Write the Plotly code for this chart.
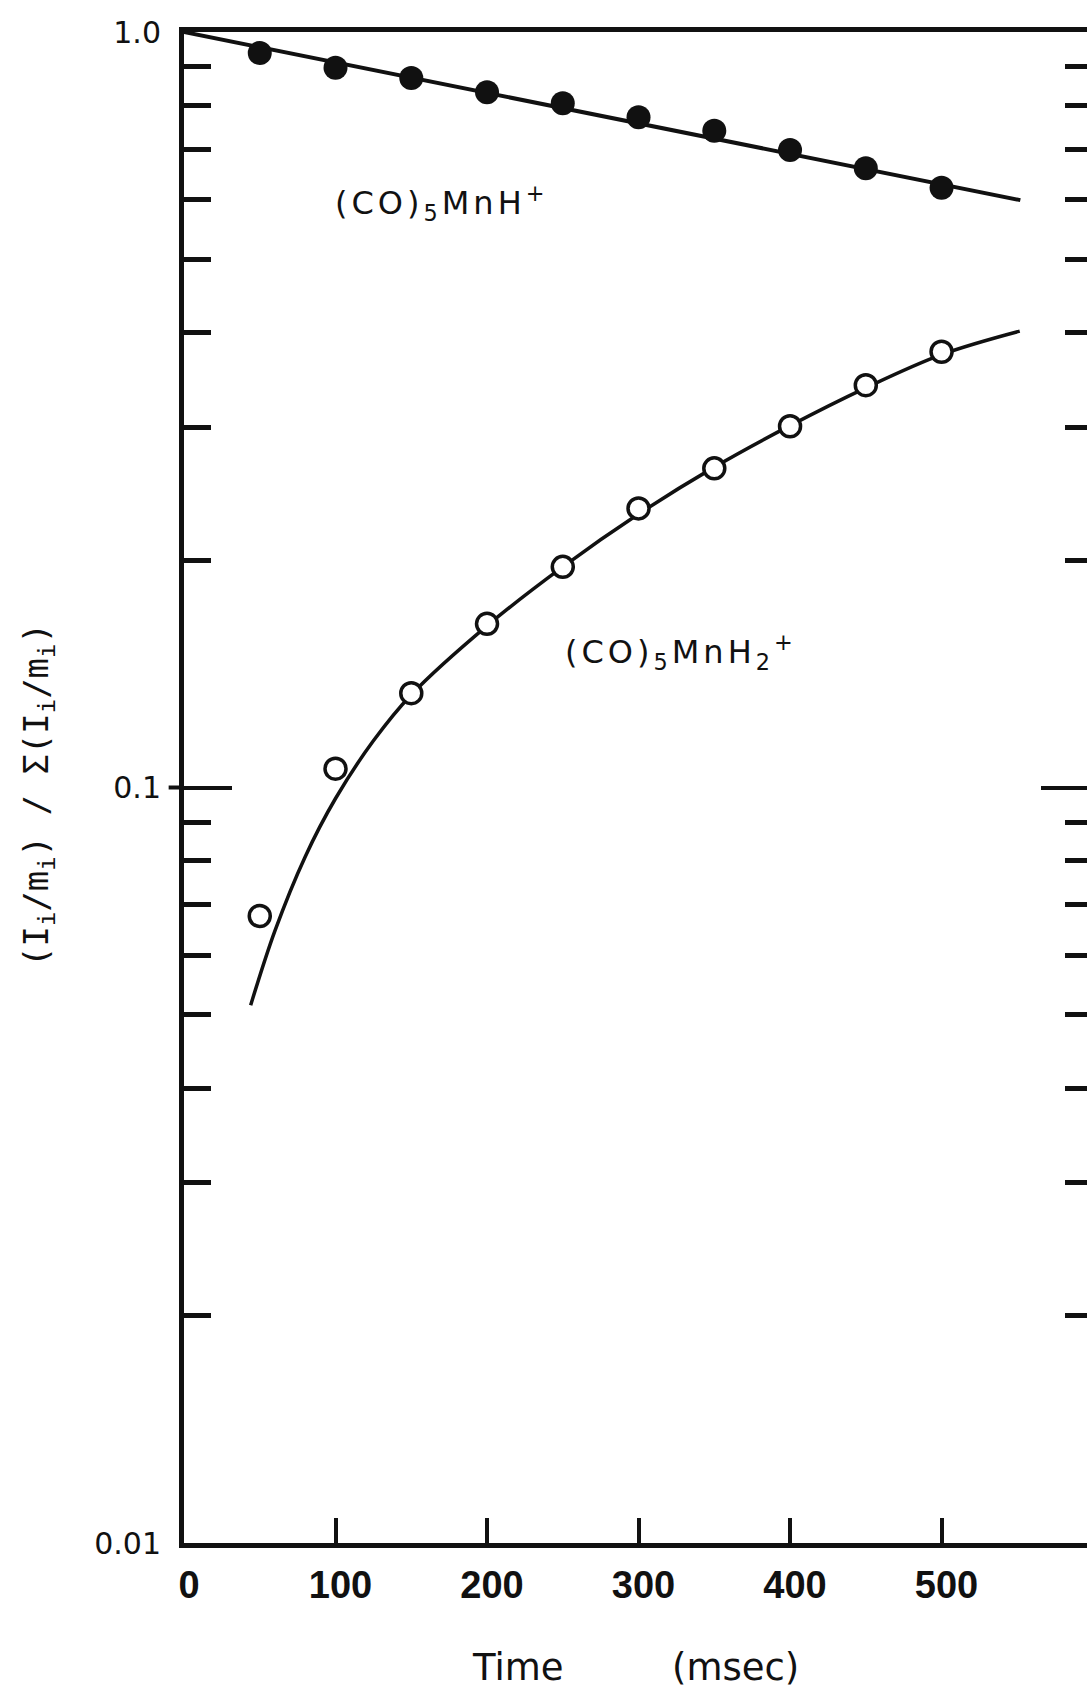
import plotly.graph_objects as go

# ---- data ----
time_ms = [50, 100, 150, 200, 250, 300, 350, 400, 450, 500]
mnh_vals = [0.938, 0.897, 0.869, 0.832, 0.805, 0.771, 0.740, 0.698, 0.660, 0.622]
mnh2_vals = [0.0676, 0.1059, 0.1333, 0.1647, 0.1959, 0.2341, 0.2645, 0.3007, 0.3408, 0.3774]

# fitted line for (CO)5MnH+ (straight on log axis)
fit1_t = [0, 552]
fit1_y = [1.0, 0.599]

# fitted curve for (CO)5MnH2+
fit2_t = [44.0, 60.0, 80.0, 100.0, 125.0, 150.0, 200.0, 250.0, 300.0, 350.0, 400.0, 450.0, 500.0, 551.6]
fit2_y = [0.0515, 0.0646, 0.0810, 0.0967, 0.1153, 0.1327, 0.1637, 0.1959, 0.2301, 0.2655, 0.3013, 0.3381, 0.3741, 0.4018]

x_ticks = [0, 100, 200, 300, 400, 500]
x_ticktext = ["0", "100", "200", "300", "400", "500"]
y_major = [0.01, 0.1, 1.0]
y_major_text = ["0.01", "0.1", "1.0"]
y_minor = [0.02, 0.03, 0.04, 0.05, 0.06, 0.07, 0.08, 0.09,
           0.2, 0.3, 0.4, 0.5, 0.6, 0.7, 0.8, 0.9]

INK = "#111111"

fig = go.Figure()
fig.add_trace(go.Scatter(x=fit1_t, y=fit1_y, mode="lines",
                         line=dict(color=INK, width=4), showlegend=False, hoverinfo="skip"))
fig.add_trace(go.Scatter(x=fit2_t, y=fit2_y, mode="lines", line_shape="spline",
                         line=dict(color=INK, width=3.5), showlegend=False, hoverinfo="skip"))
fig.add_trace(go.Scatter(x=time_ms, y=mnh_vals, mode="markers",
                         marker=dict(symbol="circle", size=24, color=INK, line=dict(width=0)),
                         name="(CO)5MnH+", showlegend=False))
fig.add_trace(go.Scatter(x=time_ms, y=mnh2_vals, mode="markers",
                         marker=dict(symbol="circle", size=21, color="white",
                                     line=dict(width=3.5, color=INK)),
                         name="(CO)5MnH2+", showlegend=False))
# invisible carrier so the right-hand tick axis is drawn
fig.add_trace(go.Scatter(x=fit1_t, y=fit1_y, yaxis="y2", mode="lines", opacity=0,
                         line=dict(width=1, color="white"), showlegend=False, hoverinfo="skip"))

fig.update_layout(
    width=1087, height=1694,
    margin=dict(l=184, r=0, t=32, b=151),
    paper_bgcolor="white", plot_bgcolor="white",
    showlegend=False,
)

fig.update_xaxes(
    range=[0, 596], showgrid=False, zeroline=False,
    showline=True, linewidth=5, linecolor=INK, mirror=True,
    ticks="inside", ticklen=25, tickwidth=4, tickcolor=INK,
    tickmode="array", tickvals=x_ticks, ticktext=x_ticktext,
    tickfont=dict(family="Liberation Sans", size=38, color=INK, weight="bold"),
    ticklabelstandoff=4, ticklabelshift=5,
)

fig.update_layout(yaxis=dict(
    type="log", range=[-2, 0], showgrid=False, zeroline=False,
    showline=True, linewidth=5, linecolor=INK, mirror=False,
    ticks="inside", ticklen=48, tickwidth=4, tickcolor=INK,
    tickmode="array", tickvals=y_major, ticktext=y_major_text,
    tickfont=dict(family="DejaVu Sans", size=30, color=INK),
    ticklabelstandoff=12,
    minor=dict(tickmode="array", tickvals=y_minor, ticks="inside",
               ticklen=27, tickwidth=5, tickcolor=INK, showgrid=False),
))
fig.update_layout(yaxis2=dict(
    type="log", range=[-2, 0], overlaying="y", side="right", anchor="x",
    showgrid=False, zeroline=False, showline=False,
    ticks="inside", ticklen=46, tickwidth=4, tickcolor=INK,
    tickmode="array", tickvals=y_major, showticklabels=False,
    minor=dict(tickmode="array", tickvals=y_minor, ticks="inside",
               ticklen=22, tickwidth=5, tickcolor=INK, showgrid=False),
))

# outer part of the 0.1 major tick
fig.add_shape(type="line", xref="x domain", yref="y domain",
              x0=-0.017, x1=0, y0=0.5, y1=0.5, line=dict(color=INK, width=4))

# axis titles
fig.add_annotation(xref="paper", yref="paper", x=0.3699, y=-0.0821, text="Time",
                   showarrow=False, xanchor="center", yanchor="middle",
                   font=dict(family="DejaVu Sans", size=37, color=INK))
fig.add_annotation(xref="paper", yref="paper", x=0.6102, y=-0.0821, text="(msec)",
                   showarrow=False, xanchor="center", yanchor="middle",
                   font=dict(family="DejaVu Sans", size=37, color=INK))
fig.add_annotation(xref="paper", yref="paper", x=-0.1617, y=0.495,
                   text="(I<sub>i</sub>/m<sub>i</sub>) / Σ(I<sub>i</sub>/m<sub>i</sub>)",
                   textangle=-90, showarrow=False, xanchor="center", yanchor="middle",
                   font=dict(family="DejaVu Sans Mono", size=34, color=INK))

# species labels
fig.add_annotation(xref="paper", yref="paper", x=0.165, y=0.8868,
                   text="<span style='letter-spacing:4px'>(CO)<sub>5</sub>MnH<sup>+</sup></span>",
                   showarrow=False, xanchor="left", yanchor="middle",
                   font=dict(family="DejaVu Sans", size=32, color=INK))
fig.add_annotation(xref="paper", yref="paper", x=0.4197, y=0.5894,
                   text="<span style='letter-spacing:4px'>(CO)<sub>5</sub>MnH<sub>2</sub><sup>+</sup></span>",
                   showarrow=False, xanchor="left", yanchor="middle",
                   font=dict(family="DejaVu Sans", size=32, color=INK))

fig.write_html("out.html")
